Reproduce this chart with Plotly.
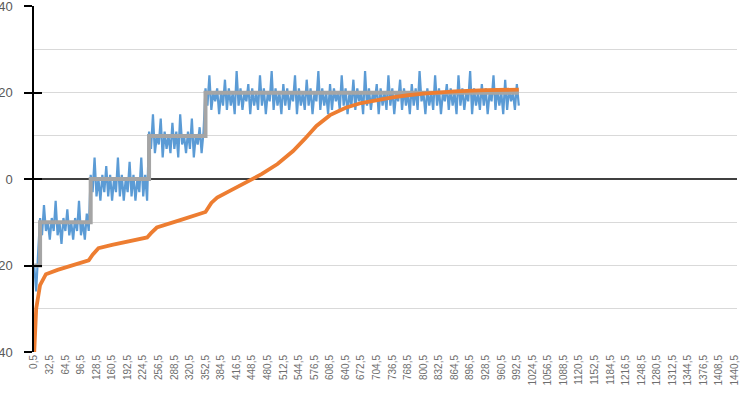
import plotly.graph_objects as go

# sample spacing of the measured signal (categories 0,5 ; 4,5 ; 8,5 ...)
blue_step = 4

# measured signal, one value every 4 categories
blue_vals = [
    -20, -26, -17,
    # setpoint -10
    -9, -13, -6, -12, -10, -14, -9, -12, -5, -13,
    -10, -15, -9, -12, -7, -13, -10, -14, -9, -12,
    -5, -13, -10, -14, -8, -12,
    # setpoint 0
    1, -3, 5, -4, 0, -5, 1, -3, 3, -4,
    1, -5, 0, -3, 5, -4, 1, -5, 0, -3,
    4, -4, 1, -5, 0, -3, 5, -4, 1, -5,
    # setpoint 10
    11, 7, 15, 6, 10, 8, 14, 5, 11, 7,
    10, 6, 13, 7, 11, 5, 15, 8, 10, 6,
    11, 7, 14, 5, 10, 8, 12, 6, 11,
    # setpoint 20
    21, 17, 24, 16, 20, 18, 21, 15, 20, 17,
    23, 16, 21, 17, 20, 15, 25, 17, 21, 16,
    20, 18, 22, 15, 21, 17, 20, 16, 24, 17,
    21, 15, 20, 18, 25, 16, 21, 17, 20, 15,
    22, 17, 21, 16, 20, 18, 24, 15, 21, 17,
    20, 16, 23, 17, 21, 15, 20, 18, 25, 16,
    21, 17, 20, 15, 22, 16, 21, 18, 20, 16,
    24, 17, 21, 15, 20, 17, 23, 16, 21, 18,
    20, 15, 25, 17, 21, 16, 20, 18, 22, 15,
    21, 17, 20, 16, 24, 17, 21, 15, 20, 18,
    23, 16, 21, 17, 20, 15, 22, 17, 21, 16,
    25, 18, 20, 15, 21, 17, 20, 16, 24, 17,
    21, 15, 20, 18, 22, 16, 21, 17, 20, 15,
    24, 17, 21, 16, 20, 18, 25, 15, 21, 17,
    20, 16, 22, 17, 21, 15, 20, 18, 24, 16,
    21, 17, 20, 15, 23, 16, 21, 18, 20, 16,
    22, 17,
]
blue_x = [0.5 + blue_step * i for i in range(len(blue_vals))]

# setpoint steps
grey_x = [0.5, 12.5, 116.5, 236.5, 352.5, 996.5]
grey_y = [-20, -10, 0, 10, 20, 20]

# slow (filtered) response
orange_x = [0.5, 4.5, 12.5, 24.5, 48.5, 80.5, 112.5, 120.5, 132.5, 160.5,
            200.5, 232.5, 240.5, 252.5, 300.5, 340.5, 352.5, 364.5, 376.5, 404.5,
            436.5, 468.5, 500.5, 532.5, 556.5, 580.5, 608.5, 640.5, 672.5, 704.5,
            736.5, 768.5, 800.5, 864.5, 928.5, 996.5]
orange_y = [-40, -30, -24.5, -22, -21, -19.8, -18.8, -17.5, -16, -15.2,
            -14.2, -13.5, -12.5, -11.2, -9.5, -8, -7.6, -5.5, -4.3, -2.6,
            -0.8, 1.2, 3.5, 6.5, 9.3, 12.3, 14.8, 16.5, 17.6, 18.3,
            18.9, 19.4, 19.8, 20.3, 20.6, 20.7]

y_ticks = [-40, -20, 0, 20, 40]
tick_vals = [0.5 + 32 * k for k in range(46)]
tick_text = ["0,5", "32,5", "64,5", "96,5", "128,5", "160,5", "192,5", "224,5",
             "256,5", "288,5", "320,5", "352,5", "384,5", "416,5", "448,5", "480,5",
             "512,5", "544,5", "576,5", "608,5", "640,5", "672,5", "704,5", "736,5",
             "768,5", "800,5", "832,5", "864,5", "896,5", "928,5", "960,5", "992,5",
             "1024,5", "1056,5", "1088,5", "1120,5", "1152,5", "1184,5", "1216,5",
             "1248,5", "1280,5", "1312,5", "1344,5", "1376,5", "1408,5", "1440,5"]

fig = go.Figure()
fig.add_trace(go.Scatter(x=blue_x, y=blue_vals, mode="lines",
                         line=dict(color="#5B9BD5", width=2.2), showlegend=False))
fig.add_trace(go.Scatter(x=grey_x, y=grey_y, mode="lines", line_shape="hv",
                         line=dict(color="#A5A5A5", width=4), showlegend=False))
fig.add_trace(go.Scatter(x=orange_x, y=orange_y, mode="lines",
                         line=dict(color="#ED7D31", width=3.8), showlegend=False))
# invisible trace on the overlay axis so the inside tick marks render
fig.add_trace(go.Scatter(x=[0.5], y=[0], yaxis="y2", mode="lines",
                         line=dict(width=0), showlegend=False, hoverinfo="skip"))

fig.update_layout(
    width=741, height=404,
    margin=dict(l=34, r=4, t=6, b=52),
    plot_bgcolor="white", paper_bgcolor="white",
    font=dict(family="Liberation Sans, Arial, sans-serif", color="#595959"),
    xaxis=dict(range=[0, 1445], tickvals=tick_vals, ticktext=tick_text,
               tickangle=-90, tickfont=dict(size=10, color="#6E6E6E"), showgrid=False,
               zeroline=False, ticks="", showline=False, automargin=False),
    yaxis=dict(range=[-40, 40.05], tickmode="array", tickvals=y_ticks, showgrid=True,
               gridcolor="#D9D9D9", gridwidth=1,
               minor=dict(dtick=10, tick0=0, showgrid=True, gridcolor="#D9D9D9"),
               zeroline=True, zerolinecolor="#404040", zerolinewidth=1.5,
               showline=True, linecolor="#000000", linewidth=1.5,
               ticks="outside", ticklen=8, tickcolor="#000000", tickwidth=1.5,
               ticklabelstandoff=9, tickfont=dict(size=13), automargin=False,
               ticklabeloverflow="allow"),
    yaxis2=dict(range=[-40, 40.05], tickmode="array", tickvals=y_ticks,
                overlaying="y", side="left",
                showgrid=False, zeroline=False, showticklabels=False,
                ticks="inside", ticklen=8, tickcolor="#000000", tickwidth=1.5,
                automargin=False),
)

# page default body margin would shift the figure by 8px
fig.write_html("out.html", config={"displayModeBar": False},
               post_script="document.body.style.margin='0';document.body.style.overflow='hidden';")
